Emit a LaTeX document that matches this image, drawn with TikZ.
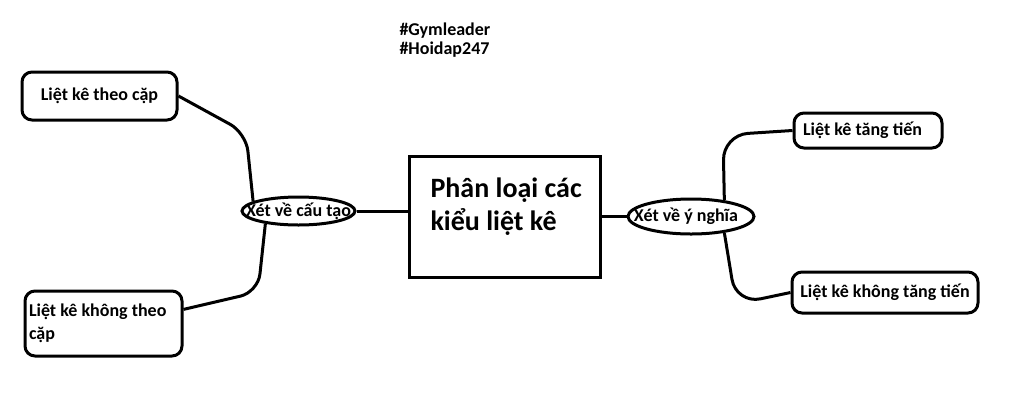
\documentclass[tikz,border=0pt]{standalone}
\usepackage{fontspec}
\setmainfont{Carlito}
\usetikzlibrary{shapes.geometric, positioning}

\begin{document}
\begin{tikzpicture}[x=1pt,y=-1pt,line width=3pt,
                    itembox/.style={draw,rounded corners=10pt,align=flush left,inner xsep=5pt,font=\bfseries\fontsize{18}{23}\selectfont},
                    oval/.style={draw,ellipse,inner sep=0pt},
                    ovaltext/.style={font=\bfseries\fontsize{18}{21}\selectfont},
                    bigbox/.style={draw,minimum width=191pt,minimum height=121pt},
                    bigtext/.style={font=\bfseries\fontsize{28}{33}\selectfont,align=flush left,anchor=north west,inner sep=0pt},
                    tagtext/.style={font=\bfseries\fontsize{18}{18}\selectfont,anchor=base west,inner sep=0pt}]
    \useasboundingbox (0,0) rectangle (1024,413);

    % hashtags
    \node[tagtext] (gym) at (398,35) {\#Gymleader};
    \node[tagtext] (hoidap) at (398,54) {\#Hoidap247};

    % center box
    \node[bigbox] (phanloai) at (504.5,216.5) {};
    \node[bigtext] (tieude) at (429,176) {Phân loại các\\kiểu liệt kê};

    % ovals
    \node[oval, minimum width=113pt, minimum height=28pt, label={[ovaltext]center:Xét về cấu tạo}] (cautao) at (298.5,211) {};
    \node[oval, minimum width=126pt, minimum height=35pt, label={[ovaltext,xshift=-5pt]center:Xét về ý nghĩa}] (yinghia) at (691,216.5) {};

    % leaves
    \node[itembox, minimum width=155pt, minimum height=48pt] (theocap) at (99.5,96) {Liệt kê theo cặp};
    \node[itembox, minimum width=157pt, minimum height=65pt, inner xsep=4pt, text width=149pt] (khongtheocap) at (103.5,323.5) {Liệt kê không theo\\cặp};
    \node[itembox, minimum width=148pt, minimum height=35pt, inner xsep=9pt, text width=130pt] (tangtien) at (868,130.5) {Liệt kê tăng tiến};
    \node[itembox, minimum width=186pt, minimum height=41pt] (khongtangtien) at (885,292.5) {Liệt kê không tăng tiến};

    % connectors
    \draw (cautao.east) -- (cautao.east -| phanloai.west);
    \draw (phanloai.east |- yinghia.west) -- (yinghia.west);
    \draw[rounded corners=18pt] (theocap.east) -- (246,133) -- (cautao.168);
    \draw[rounded corners=18pt] (cautao.201) -- (258,292) -- (khongtheocap.10);
    \draw[rounded corners=25pt] (yinghia.26) -- (723,135) -- (tangtien.west);
    \draw[rounded corners=25pt] (yinghia.-26) -- (736,304) -- (khongtangtien.west);
\end{tikzpicture}
\end{document}
